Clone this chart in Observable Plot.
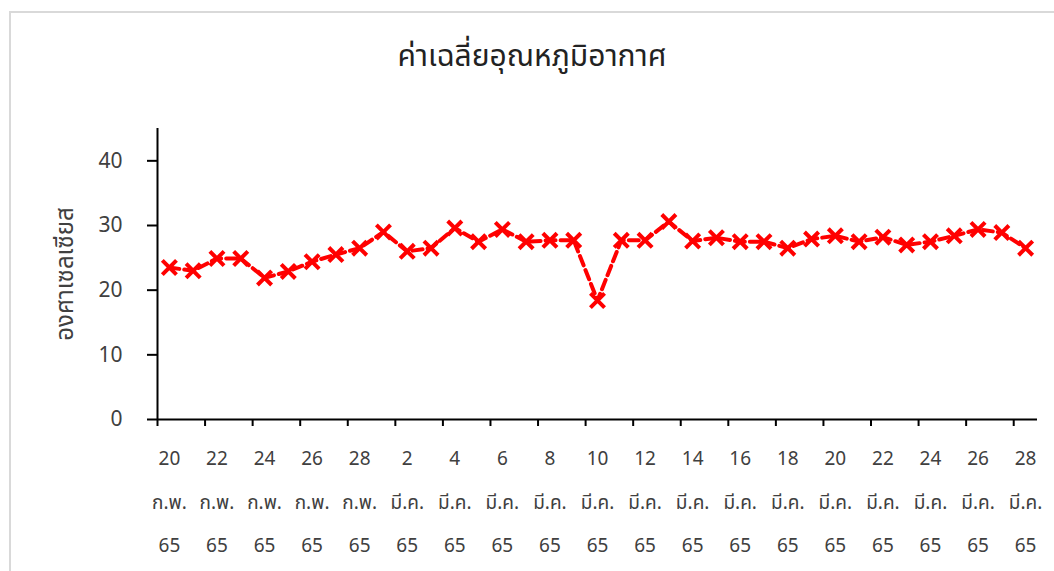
<!DOCTYPE html>
<html>
<head>
<meta charset="utf-8">
<script src="https://cdn.jsdelivr.net/npm/d3@7"></script>
<script src="https://cdn.jsdelivr.net/npm/@observablehq/plot@0.6"></script>
<style>
  html, body { margin: 0; padding: 0; background: #fff; width: 1054px; height: 571px; overflow: hidden; }
  body { position: relative; font-family: "Noto Sans Thai", "Noto Sans", "DejaVu Sans", sans-serif; }
  #frame { position: absolute; left: 9px; top: 11px; width: 1100px; height: 600px; border-left: 2px solid #d9d9d9; border-top: 2px solid #d9d9d9; box-sizing: border-box; }
  #title { position: absolute; left: 10px; width: 1044px; top: 36px; text-align: center; font-size: 30px; color: #222; line-height: 42px; }
  #chart { position: absolute; left: 0; top: 100px; }
</style>
</head>
<body>
<div id="frame"></div>
<div id="title">ค่าเฉลี่ยอุณหภูมิอากาศ</div>
<div id="chart"></div>
<script>
// Categories: daily dates 20 Feb 65 – 28 Mar 65
const days = ["20","21","22","23","24","25","26","27","28",
  "1","2","3","4","5","6","7","8","9","10","11","12","13","14","15","16","17","18","19","20","21","22","23","24","25","26","27","28"];
const months = ["ก.พ.","ก.พ.","ก.พ.","ก.พ.","ก.พ.","ก.พ.","ก.พ.","ก.พ.","ก.พ.",
  "มี.ค.","มี.ค.","มี.ค.","มี.ค.","มี.ค.","มี.ค.","มี.ค.","มี.ค.","มี.ค.","มี.ค.","มี.ค.","มี.ค.","มี.ค.","มี.ค.","มี.ค.","มี.ค.","มี.ค.","มี.ค.","มี.ค.","มี.ค.","มี.ค.","มี.ค.","มี.ค.","มี.ค.","มี.ค.","มี.ค.","มี.ค.","มี.ค."];
const year = "65";
// Average air temperature (°C)
const temps = [23.5,23.0,24.9,24.9,21.9,22.9,24.4,25.5,26.5,29.0,26.0,26.5,
  29.6,27.5,29.4,27.5,27.7,27.7,18.4,27.7,27.7,30.6,27.6,28.1,
  27.5,27.5,26.5,27.9,28.4,27.5,28.2,27.0,27.5,28.4,29.4,28.9,26.5];
const yTicks = [0, 10, 20, 30, 40];
const yLabel = "องศาเซลเซียส";

const data = temps.map((v, i) => ({i, v}));
const n = temps.length;
const boundaryTicks = d3.range(0, n, 2);           // category boundaries every 2 days
const labelTicks = boundaryTicks.map(b => b + 0.5); // category centres carrying labels
const labelFor = t => { const i = Math.round(t - 0.5); return `${days[i]}\n${months[i]}\n${year}`; };

const font = `"Noto Sans Thai", "Noto Sans", "DejaVu Sans", sans-serif`;

const chart = Plot.plot({
  width: 1054,
  height: 471,
  marginLeft: 157,
  marginRight: 17,
  marginTop: 28,
  marginBottom: 152,
  style: {fontFamily: font, background: "transparent", overflow: "visible"},
  x: {domain: [0, n], axis: null},
  y: {domain: [0, 45], axis: null},
  marks: [
    Plot.axisY({ticks: yTicks, tickSize: 10, tickFormat: () => "", stroke: "#000", strokeWidth: 2, label: null}),
    Plot.axisY({ticks: yTicks, tickSize: 0, tickPadding: 0, dx: -35, fontSize: 21, fill: "#404040", textAnchor: "end", label: null}),
    Plot.text([yLabel], {frameAnchor: "left", textAnchor: "middle", rotate: -90, dx: -92, fontSize: 24, fill: "#404040"}),
    Plot.axisX({ticks: boundaryTicks, tickSize: 7, tickFormat: () => "", stroke: "#000", strokeWidth: 2, label: null}),
    Plot.axisX({ticks: labelTicks, tickSize: 0, tickPadding: 15, tickFormat: labelFor, fontSize: 19, lineHeight: 2.29,
      fill: "#404040", label: null}),
    Plot.ruleY([0], {stroke: "#000", strokeWidth: 2}),
    Plot.ruleX([0], {y1: 0, y2: 45, stroke: "#000", strokeWidth: 2}),
    Plot.line(data, {x: d => d.i + 0.5, y: "v", stroke: "#ff0000", strokeWidth: 4, strokeDasharray: "10,5"}),
    Plot.dot(data, {x: d => d.i + 0.5, y: "v", symbol: "times", r: 6.5, stroke: "#ff0000", strokeWidth: 4})
  ]
});
document.getElementById("chart").appendChild(chart);
</script>
</body>
</html>
